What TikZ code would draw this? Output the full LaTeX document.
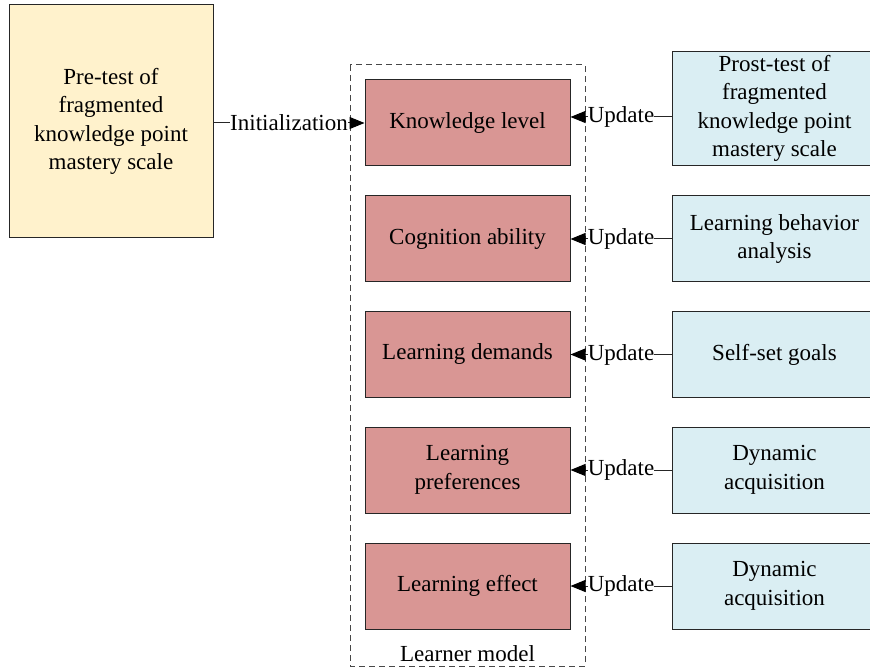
\documentclass[tikz,border=0pt]{standalone}
\usepackage{fontspec}
\IfFontExistsTF{LiberationSerif-Regular.ttf}{%
  \setmainfont{LiberationSerif}[Extension=.ttf, UprightFont=*-Regular, BoldFont=*-Bold, ItalicFont=*-Italic, BoldItalicFont=*-BoldItalic]}{%
  \setmainfont{Liberation Serif}}
\usetikzlibrary{arrows.meta}
\definecolor{pyellow}{HTML}{FFF2CC}
\definecolor{pred}{HTML}{D99694}
\definecolor{pblue}{HTML}{DAEEF3}
\definecolor{edge}{HTML}{262626}
\tikzset{
  txt/.style={font=\fontsize{23pt}{28.5pt}\selectfont, align=center},
  basebox/.style={txt, draw=edge, line width=1pt, rectangle, inner sep=2pt},
  prebox/.style={basebox, fill=pyellow, minimum width=204pt, minimum height=233pt},
  modbox/.style={basebox, fill=pred, minimum width=205pt, minimum height=86pt},
  srcbox/.style={basebox, fill=pblue, minimum width=205pt, minimum height=86pt},
  conn/.style={draw=edge, line width=1pt, -{Triangle[length=15pt,width=12pt,color=black,fill=black]}},
  lbl/.style={txt, fill=white, inner sep=0pt, midway},
  frame/.style={draw=edge!85, line width=1pt, dash pattern=on 6pt off 4pt}
}
\begin{document}
\begin{tikzpicture}[x=1pt,y=-1pt]
\useasboundingbox (0,0) rectangle (870,668);
\fill[white] (0,0) rectangle (870,668);
% learner model frame
\draw[frame] (350,65) rectangle (585,666);
\node[txt, anchor=base] (lm) at (467.5,661) {Learner model};
% left box
\node[prebox] (pre) at (111,121.5) {Pre-test of\\fragmented\\knowledge point\\mastery scale};
% model boxes
\node[modbox] (k1) at (467.5,123) {Knowledge level};
\node[modbox] (k2) at (467.5,239) {Cognition ability};
\node[modbox] (k3) at (467.5,354.5) {Learning demands};
\node[modbox] (k4) at (467.5,470) {Learning\\preferences};
\node[modbox] (k5) at (467.5,586) {Learning effect};
% source boxes
\node[srcbox, minimum height=114pt] (r1) at (774.5,108.5) {Prost-test of\\fragmented\\knowledge point\\mastery scale};
\node[srcbox] (r2) at (774.5,239) {Learning behavior\\analysis};
\node[srcbox] (r3) at (774.5,354.5) {Self-set goals};
\node[srcbox] (r4) at (774.5,470) {Dynamic\\acquisition};
\node[srcbox] (r5) at (774.5,586) {Dynamic\\acquisition};
% connectors
\draw[conn] (pre.east |- k1.west) -- (k1.west) node[lbl] {Initialization};
\draw[conn] ([yshift=-8.5pt]r1.west) -- ([yshift=6pt]k1.east) node[lbl] {Update};
\draw[conn] (r2.west) -- (k2.east) node[lbl] {Update};
\draw[conn] (r3.west) -- (k3.east) node[lbl] {Update};
\draw[conn] (r4.west) -- (k4.east) node[lbl] {Update};
\draw[conn] (r5.west) -- (k5.east) node[lbl] {Update};
\end{tikzpicture}
\end{document}
